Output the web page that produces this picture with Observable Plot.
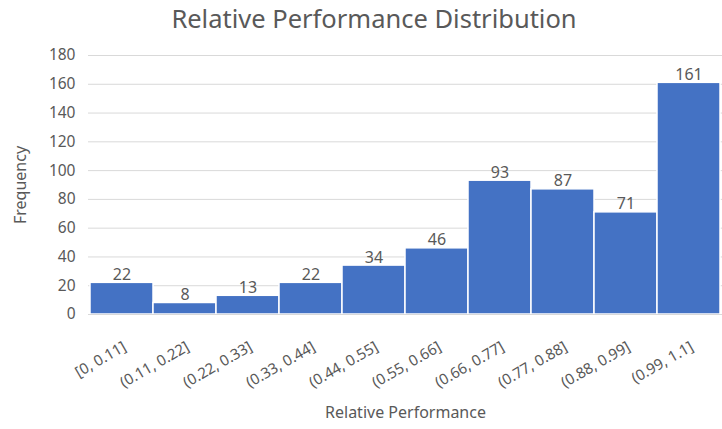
<!DOCTYPE html>
<html>
<head>
<meta charset="utf-8">
<script src="https://cdn.jsdelivr.net/npm/d3@7"></script>
<script src="https://cdn.jsdelivr.net/npm/@observablehq/plot@0.6"></script>
<style>
  body { margin: 0; background: #fff; font-family: "Noto Sans", sans-serif; }
  #wrap { position: relative; width: 722px; height: 429px; overflow: hidden; }
  #title { position: absolute; left: 0; top: 0px; width: 748px; text-align: center;
           font-size: 25.5px; line-height: 36px; color: #595959; }
  #chart { position: absolute; left: 0; top: 40px; }
</style>
</head>
<body>
<div id="wrap">
  <div id="title">Relative Performance Distribution</div>
  <div id="chart"></div>
</div>
<script>
// Histogram bins and their counts
const bins = ["[0, 0.11]", "(0.11, 0.22]", "(0.22, 0.33]", "(0.33, 0.44]", "(0.44, 0.55]",
              "(0.55, 0.66]", "(0.66, 0.77]", "(0.77, 0.88]", "(0.88, 0.99]", "(0.99, 1.1]"];
const counts = [22, 8, 13, 22, 34, 46, 93, 87, 71, 161];
const yTicks = [0, 20, 40, 60, 80, 100, 120, 140, 160, 180];

const data = bins.map((bin, i) => ({bin, count: counts[i]}));

const chart = Plot.plot({
  width: 722,
  height: 389,
  marginTop: 15,
  marginBottom: 115,
  marginLeft: 88,
  marginRight: 0,
  style: { fontFamily: "Noto Sans, sans-serif", color: "#595959", background: "transparent" },
  x: { domain: bins, padding: 0, label: null },
  y: { domain: [0, 180], label: null },
  marks: [
    Plot.gridY(yTicks, { stroke: "#d9d9d9", strokeOpacity: 1, strokeWidth: 1 }),
    Plot.axisY(yTicks, { tickSize: 0, tickPadding: 13, fontSize: 15.5, fill: "#595959", label: null }),
    Plot.axisX({ tickSize: 0, tickRotate: -30, tickPadding: 31, fontSize: 15, fill: "#595959", label: null, dx: 3 }),
    Plot.barY(data, { x: "bin", y: "count", fill: "#4472c4", stroke: "#ffffff", strokeWidth: 1.5 }),
    Plot.ruleY([0], { stroke: "#d9d9d9" }),
    Plot.text(data, { x: "bin", y: "count", text: d => String(d.count), lineAnchor: "bottom", dy: -3,
                      fontSize: 16, fill: "#595959" }),
    Plot.text(["Frequency"], { frameAnchor: "left", textAnchor: "middle", dx: -68, rotate: -90, fontSize: 16, fill: "#595959" }),
    Plot.text(["Relative Performance"], { frameAnchor: "bottom", dy: 103, fontSize: 16, fill: "#595959" })
  ]
});
document.getElementById("chart").appendChild(chart);
</script>
</body>
</html>
